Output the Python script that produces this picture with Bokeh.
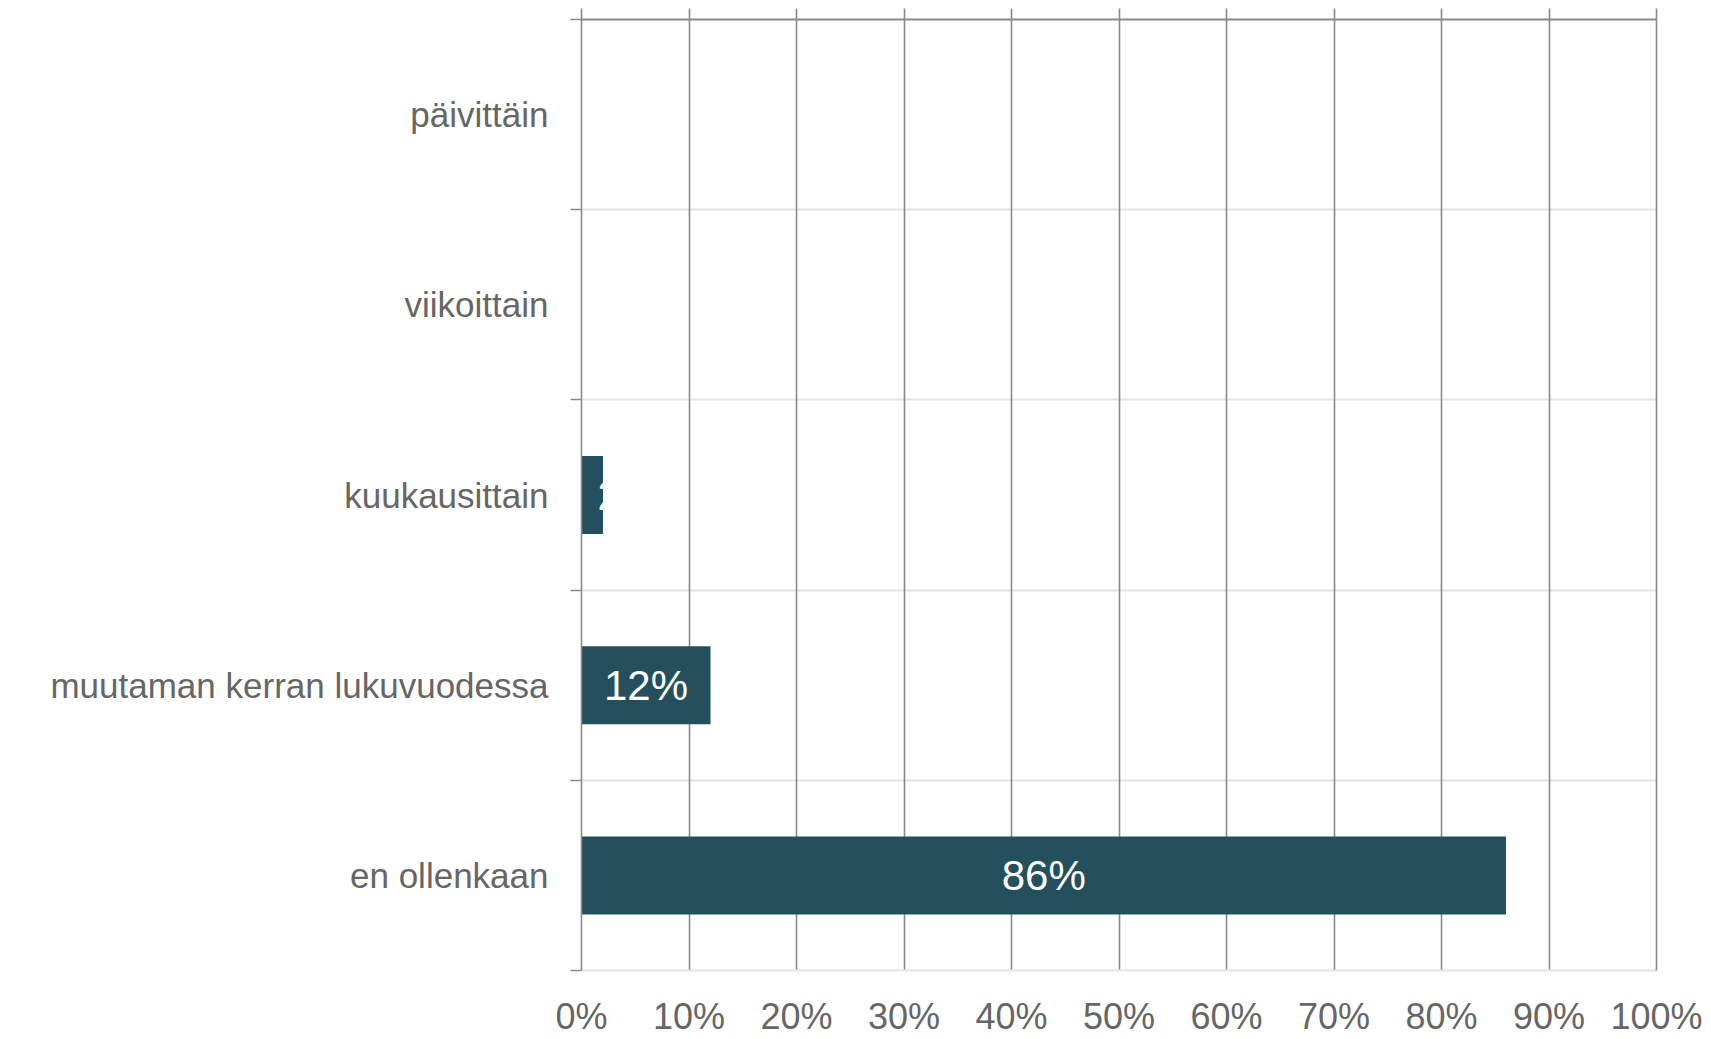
from bokeh.plotting import figure
from bokeh.models import Range1d, FixedTicker, LinearAxis, PrintfTickFormatter, ColumnDataSource, Grid
from bokeh.core.properties import value
from bokeh.embed import file_html
from bokeh.resources import INLINE

categories = ["päivittäin", "viikoittain", "kuukausittain", "muutaman kerran lukuvuodessa", "en ollenkaan"]
values = [0, 0, 2, 12, 86]
x_ticks = [0, 10, 20, 30, 40, 50, 60, 70, 80, 90, 100]

BAR = "#244f5c"
TXT = "#666666"
DARK = "#8a8a8a"
LIGHT = "#e4e4e4"
FONT = "Liberation Sans"

n = len(categories)
ypos = [i + 0.5 for i in range(n)]
bounds = list(range(n + 1))

p = figure(width=1711, height=1039, x_range=Range1d(0, 100), y_range=Range1d(n, 0),
           output_backend="svg", toolbar_location=None,
           x_axis_location=None, y_axis_location=None,
           min_border_left=581, min_border_right=55, min_border_top=19, min_border_bottom=66)
p.outline_line_color = None
p.grid.visible = False

p.add_layout(Grid(dimension=1, ticker=FixedTicker(ticks=bounds), grid_line_color=LIGHT, grid_line_width=1.8))
p.add_layout(Grid(dimension=0, ticker=FixedTicker(ticks=x_ticks), grid_line_color=DARK, grid_line_width=1.6))

bottom = LinearAxis(ticker=FixedTicker(ticks=x_ticks), formatter=PrintfTickFormatter(format="%d%%"),
                    axis_line_color=LIGHT, axis_line_width=1.8,
                    major_tick_line_color=None, minor_tick_line_color=None,
                    major_tick_out=0, major_tick_in=0, minor_tick_out=0, minor_tick_in=0,
                    major_label_standoff=25, major_label_text_font_size="36px",
                    major_label_text_color=TXT, major_label_text_font=FONT)
p.add_layout(bottom, "below")

right = LinearAxis(ticker=FixedTicker(ticks=[]), axis_line_color=DARK, axis_line_width=1.6,
                   major_tick_out=0, major_tick_in=0, minor_tick_out=0, minor_tick_in=0)
p.add_layout(right, "right")

left = LinearAxis(ticker=FixedTicker(ticks=ypos, minor_ticks=bounds),
                  major_label_overrides={y: c for y, c in zip(ypos, categories)},
                  axis_line_color=DARK, axis_line_width=1.6, major_tick_line_color=None,
                  major_tick_out=0, major_tick_in=0,
                  minor_tick_out=11, minor_tick_in=0, minor_tick_line_color=DARK, minor_tick_line_width=1.6,
                  major_label_standoff=22, major_label_text_font_size="35px",
                  major_label_text_color=TXT, major_label_text_font=FONT)
p.add_layout(left, "left")

top = LinearAxis(ticker=FixedTicker(ticks=[], minor_ticks=x_ticks), axis_line_color=DARK, axis_line_width=2,
                 major_tick_out=0, major_tick_in=0,
                 minor_tick_out=11, minor_tick_in=0, minor_tick_line_color=DARK, minor_tick_line_width=1.6)
p.add_layout(top, "above")

src = ColumnDataSource(dict(y=ypos, v=values))
p.hbar(y="y", left=0, right="v", height=0.41, fill_color=BAR, line_color=None, source=src)

big = [(v, y) for v, y in zip(values, ypos) if v > 5]
small = [(v, y) for v, y in zip(values, ypos) if 0 < v <= 5]
p.text(x=[v / 2 for v, y in big], y=[y for v, y in big], text=[f"{v}%" for v, y in big],
       text_align="center", text_baseline="middle", text_color="white",
       text_font=value(FONT), text_font_size="42px")
p.text(x=[0 for v, y in small], y=[y for v, y in small], text=[f"{v}%" for v, y in small],
       text_align="left", text_baseline="middle", text_color="white", x_offset=16,
       text_font=value(FONT), text_font_size="42px")

open("out.html", "w").write(file_html(p, INLINE))
